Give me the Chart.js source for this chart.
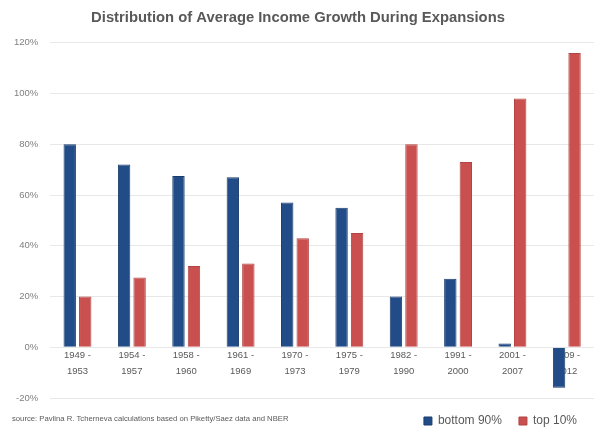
<!DOCTYPE html>
<html>
<head>
<meta charset="utf-8">
<script src="https://cdn.jsdelivr.net/npm/chart.js@4"></script>
<style>
  html, body { margin: 0; padding: 0; background: #fff; }
  #wrap { width: 600px; height: 440px; }
</style>
</head>
<body>
<div id="wrap"><canvas id="myChart" width="600" height="440"></canvas></div>
<script>
const periods = [
  ["1949 -", "1953"], ["1954 -", "1957"], ["1958 -", "1960"], ["1961 -", "1969"],
  ["1970 -", "1973"], ["1975 -", "1979"], ["1982 -", "1990"], ["1991 -", "2000"],
  ["2001 -", "2007"], ["2009 -", "2012"]
];
const bottom90 = [80, 72, 67.5, 67, 57, 55, 20, 27, 1.5, -16];
const top10 = [20, 27.5, 32, 33, 43, 45, 80, 73, 98, 116];
const yMin = -20;
const yMax = 120;
const yStep = 20;
const sourceNote = "source: Pavlina R. Tcherneva calculations based on Piketty/Saez data and NBER";

// source line, bottom left
const sourcePlugin = {
  id: "sourceNote",
  afterDraw(chart) {
    const c = chart.ctx;
    c.save();
    c.font = "7.7px 'Liberation Sans', sans-serif";
    c.fillStyle = "#595959";
    c.textBaseline = "middle";
    c.fillText(sourceNote, 12, 419);
    c.restore();
  },
};

const ctx = document.getElementById("myChart");
new Chart(ctx, {
  type: "bar",
  data: {
    labels: periods,
    datasets: [
      {
        label: "bottom 90%",
        data: bottom90,
        backgroundColor: "#214c88",
        borderColor: "#1a3d6d",
        borderWidth: 1,
      },
      {
        label: "top 10%",
        data: top10,
        backgroundColor: "#c9504e",
        borderColor: "#b24443",
        borderWidth: 1,
      },
    ],
  },
  options: {
    responsive: false,
    animation: false,
    categoryPercentage: 0.57,
    barPercentage: 0.8,
    layout: { padding: { left: 2, right: 6, top: 0, bottom: 3 } },
    scales: {
      x: {
        position: { y: 0 },
        grid: { display: false, drawTicks: false },
        border: { display: false },
        ticks: {
          color: "#595959",
          font: { family: "'Liberation Sans', sans-serif", size: 9.5, lineHeight: 1.6 },
          padding: 1,
          maxRotation: 0,
          autoSkip: false,
        },
      },
      y: {
        min: yMin,
        max: yMax,
        grid: { color: "#e8e8e8", drawTicks: false },
        border: { display: false },
        ticks: {
          stepSize: yStep,
          color: "#7f7f7f",
          padding: 12,
          font: { family: "'Liberation Sans', sans-serif", size: 9.5 },
          callback: (v) => v + "%",
        },
      },
    },
    plugins: {
      title: {
        display: true,
        text: "Distribution of Average Income Growth During Expansions",
        color: "#595959",
        font: { family: "'Liberation Sans', sans-serif", size: 14.8, weight: "bold" },
        padding: { top: 9, bottom: 16 },
      },
      legend: {
        position: "bottom",
        align: "end",
        labels: {
          boxWidth: 8,
          boxHeight: 8,
          padding: 17,
          color: "#595959",
          font: { family: "'Liberation Sans', sans-serif", size: 12 },
        },
      },
      tooltip: { enabled: false },
    },
  },
  plugins: [sourcePlugin],
});
</script>
</body>
</html>
